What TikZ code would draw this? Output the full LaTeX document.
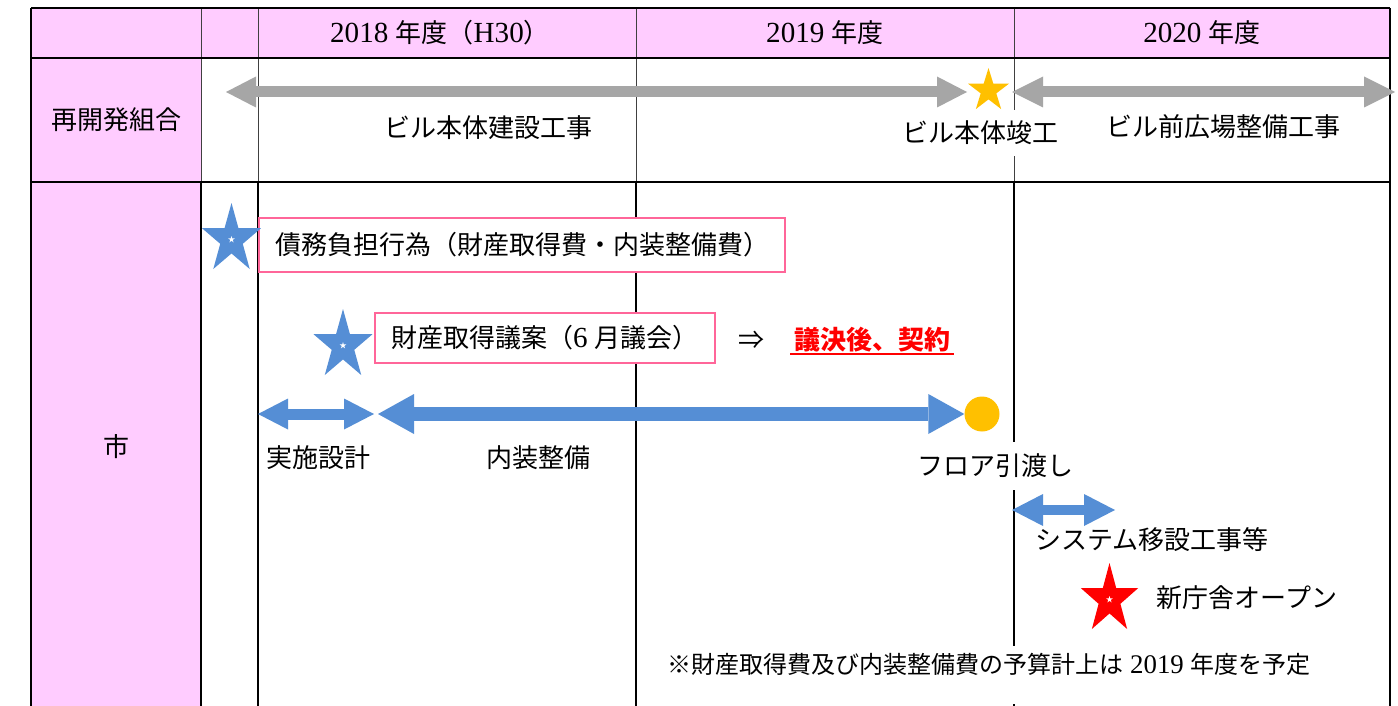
\documentclass[tikz,border=0pt]{standalone}
\usepackage{fontspec}
\usetikzlibrary{arrows.meta}
\setmainfont[Scale=1.12]{Liberation Serif}
\newfontfamily\jp{Noto Sans CJK JP}
\newcommand{\jt}[1]{{\jp #1}}
\definecolor{headpink}{RGB}{255,204,255}
\definecolor{boxpink}{RGB}{255,102,153}
\definecolor{bargray}{RGB}{166,166,166}
\definecolor{barblue}{RGB}{85,142,213}
\definecolor{staryellow}{RGB}{255,192,0}
% star: centre x, centre y, x radius, y radius, colour, centre colour
\newcommand{\drawstar}[6]{%
  \fill[#5,shift={(#1,#2)},xscale=#3,yscale=#4] (-90:1) -- (-54:.382) -- (-18:1) -- (18:.382) -- (54:1)
    -- (90:.382) -- (126:1) -- (162:.382) -- (198:1) -- (234:.382) -- cycle;
  \fill[#6,shift={(#1,#2)},scale=3.5] (-90:1) -- (-54:.382) -- (-18:1) -- (18:.382) -- (54:1)
    -- (90:.382) -- (126:1) -- (162:.382) -- (198:1) -- (234:.382) -- cycle;}

\begin{document}
\begin{tikzpicture}[x=1pt,y=-1pt,
  every node/.style={font=\fontsize{26}{30}\selectfont},
  thinrule/.style={line width=1pt,black!75},
  thickrule/.style={line width=2pt,black},
  pinkbox/.style={draw=boxpink,line width=2pt,fill=white,inner xsep=16pt},
  bar/.style n args={4}{#1,line width=#2pt,>={Triangle[length=#3pt,width=#4pt,line width=0pt]},<->}]
\fill[white] (0,0) rectangle (1398,706);
\useasboundingbox (0,0) rectangle (1398,706);
\fill[headpink] (31,8) rectangle (1390,58);
\fill[headpink] (31,58) rectangle (201,706);
\foreach \x in {201,258,636,1014} \draw[thinrule] (\x,8) -- (\x,182);
\foreach \x in {201,258,636,1014} \draw[thickrule] (\x,182) -- (\x,706);
\foreach \y in {8,58,182} \draw[thickrule] (31,\y) -- (1390,\y);
\draw[thickrule] (31,8) -- (31,706);
\draw[thickrule] (1390,8) -- (1390,706);

\node (y2018) at (440,33) {2018\hspace{.25em}\jt{年度（}H30\jt{）}};
\node (y2019) at (825,33) {2019\hspace{.25em}\jt{年度}};
\node (y2020) at (1202,33) {2020\hspace{.25em}\jt{年度}};
\node (kumiai) at (116,120) {\jt{再開発組合}};
\node (shi) at (116,447) {\jt{市}};

% building works
\coordinate (bldA) at (226,92);
\coordinate (bldB) at (967,92);
\coordinate (plzA) at (1012,92);
\coordinate (plzB) at (1395,92);
\draw[bar={bargray}{11}{30}{31}] (bldA) -- (bldB);
\draw[bar={bargray}{11}{31}{31}] (plzA) -- (plzB);
\drawstar{988.5}{90.7}{21.5}{22.7}{staryellow}{staryellow}
\node (bldtxt) at (488,128) {\jt{ビル本体建設工事}};
\node[fill=white,inner xsep=1pt,inner ysep=11pt] (bldend) at (980,133) {\jt{ビル本体竣工}};
\node (plztxt) at (1223,127) {\jt{ビル前広場整備工事}};

% city
\node[pinkbox,minimum height=54pt,anchor=west] (saimu) at (258,245) {\jt{債務負担行為（財産取得費・内装整備費）}};
\node[pinkbox,minimum height=50pt,anchor=west] (gian) at (374,338) {\jt{財産取得議案（}6\hspace{.25em}\jt{月議会）}};
\drawstar{231.5}{239.5}{31}{36.5}{barblue}{white}
\drawstar{343}{345.5}{31}{36.5}{barblue}{white}
\node (then) at (751,340) {\jt{⇒}};
\node[text=red,font=\fontsize{26}{30}\selectfont\bfseries] (ketsu) at (872,340) {\jt{議決後、契約}};
\draw[red,line width=2.5pt] ([yshift=-4pt]ketsu.base west) -- ([yshift=-4pt]ketsu.base east);

\coordinate (dsgA) at (258,414);
\coordinate (dsgB) at (374,414);
\coordinate (intA) at (378,414);
\node[circle,fill=staryellow,minimum size=35pt,inner sep=0pt] (handover) at (982,414) {};
\draw[bar={barblue}{11}{30}{31}] (dsgA) -- (dsgB);
\draw[bar={barblue}{14}{36}{40}] (intA) -- (handover.west);
\node (dsgtxt) at (318,458) {\jt{実施設計}};
\node (inttxt) at (538,458) {\jt{内装整備}};
\node[fill=white,inner xsep=1pt,inner ysep=12pt] (floor) at (995,466) {\jt{フロア引渡し}};

\coordinate (sysA) at (1012,510);
\coordinate (sysB) at (1115,510);
\draw[bar={barblue}{10}{31}{32}] (sysA) -- (sysB);
\node (systxt) at (1152,540) {\jt{システム移設工事等}};
\drawstar{1109.5}{599.5}{30}{36.5}{red}{white}
\node (opentxt) at (1247,598) {\jt{新庁舎オープン}};

\node[fill=white,font=\fontsize{24}{28}\selectfont,anchor=base,inner ysep=0pt,text height=27pt,text depth=31pt] (note)
  at (989,673) {\jt{※財産取得費及び内装整備費の予算計上は}\hspace{.25em}2019\hspace{.25em}\jt{年度を予定}};
\end{tikzpicture}
\end{document}
